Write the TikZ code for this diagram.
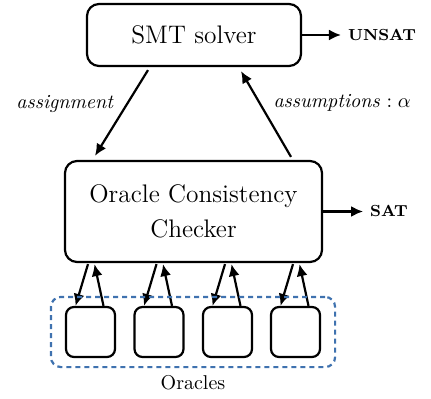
\documentclass[tikz,border=0pt]{standalone}
\usetikzlibrary{arrows.meta,fit,positioning}
\definecolor{oracleblue}{HTML}{3F72AF}

\begin{document}
\begin{tikzpicture}[%
    x=0.5pt, y=-0.5pt,
    mainbox/.style={
        draw,
        rounded corners=6pt,
        line width=1.1pt,
        align=center,
        font=\fontsize{12.7}{17.5}\selectfont},
    oraclebox/.style={
        draw,
        rounded corners=4pt,
        line width=1.1pt,
        minimum width=24.5pt,
        minimum height=25pt},
    flow/.style={-{Latex[length=6pt,width=5.5pt]}, line width=1.1pt},
    result/.style={font=\footnotesize\bfseries},
]

\useasboundingbox (0,0) rectangle (431,399);

\node[mainbox, minimum width=107pt, minimum height=31pt] (smt) at (194,35) {SMT solver};
\node[mainbox, minimum width=128.5pt, minimum height=50.5pt] (occ) at (193.5,211.5)
    {Oracle Consistency\\Checker};

\node[result] (unsat) at (382,35) {UNSAT};
\node[result] (sat) at (389,211.5) {SAT};

\draw[flow] (smt.east) -- (unsat.west);
\draw[flow] (occ.east) -- (sat.west);

\draw[flow] ([shift={(-46,3)}]smt.south) -- ([shift={(-98.5,-4)}]occ.north)
    node[pos=0.4, left=3pt, font=\itshape] {assignment};
\draw[flow] ([shift={(97.5,-3)}]occ.north) -- ([shift={(47,4)}]smt.south)
    node[pos=0.625, right=3pt] {\textit{assumptions} $:\alpha$};

\foreach \cx [count=\i] in {90.5,159,227.5,295.5}{
    \node[oraclebox] (o\i) at (\cx,332) {};
    \draw[flow] ([shift={(\cx-196,1)}]occ.south) -- ([shift={(-15,0)}]o\i.north);
    \draw[flow] ([shift={(13,0)}]o\i.north) -- ([shift={(\cx-189.5,1)}]occ.south);
}

\node[draw=oracleblue, line width=1.1pt, dash pattern=on 2.5pt off 2pt,
      rounded corners=5pt, inner xsep=7pt, inner ysep=4.5pt,
      fit=(o1)(o4)] (group) {};
\node[below=0pt of group] (oracles) {Oracles};
\end{tikzpicture}
\end{document}
